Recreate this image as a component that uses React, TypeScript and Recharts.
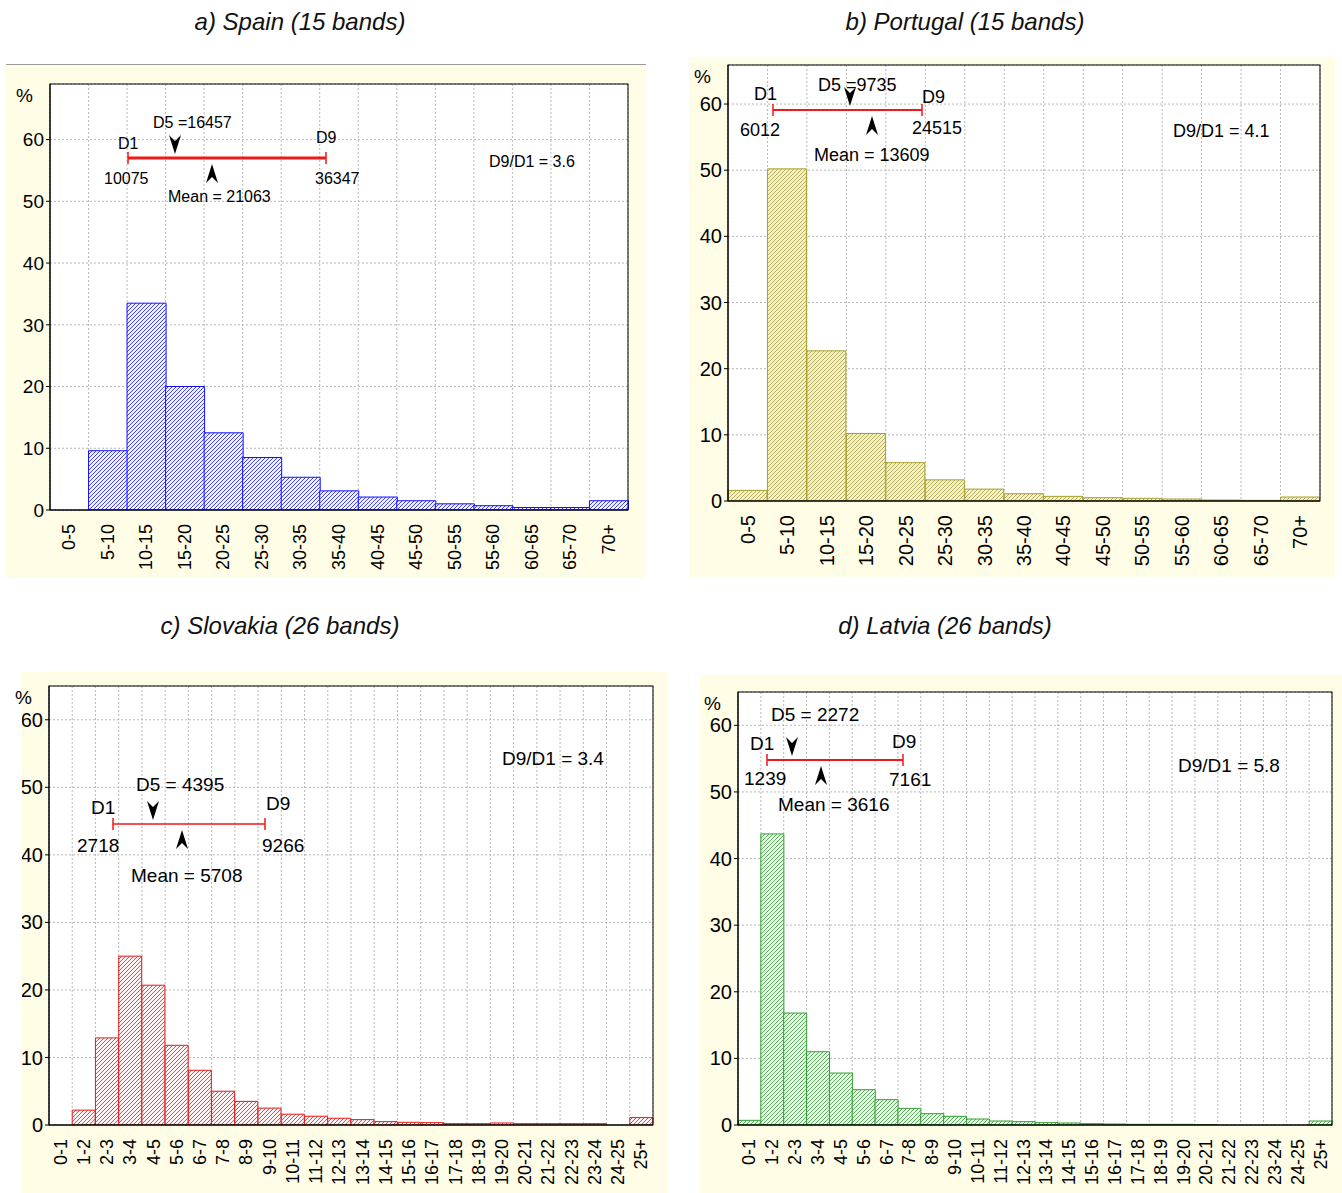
import React from 'react';
import { BarChart, Bar, XAxis, YAxis, CartesianGrid } from 'recharts';

const bands15 = ['0-5','5-10','10-15','15-20','20-25','25-30','30-35','35-40','40-45','45-50','50-55','55-60','60-65','65-70','70+'];
const bands26 = ['0-1','1-2','2-3','3-4','4-5','5-6','6-7','7-8','8-9','9-10','10-11','11-12','12-13','13-14','14-15','15-16','16-17','17-18','18-19','19-20','20-21','21-22','22-23','23-24','24-25','25+'];
const spainValues = [0,9.6,33.5,20,12.5,8.5,5.3,3.1,2.1,1.5,1.0,0.7,0.4,0.4,1.5];
const portugalValues = [1.6,50.2,22.7,10.2,5.8,3.2,1.8,1.1,0.7,0.5,0.4,0.3,0.15,0.1,0.6];
const slovakiaValues = [0,2.2,12.9,25,20.7,11.8,8.1,5,3.5,2.5,1.6,1.3,1.0,0.8,0.5,0.4,0.35,0.2,0.2,0.3,0.2,0.2,0.2,0.2,0,1.1];
const latviaValues = [0.7,43.7,16.8,11.0,7.8,5.3,3.8,2.5,1.7,1.3,0.9,0.6,0.5,0.35,0.3,0.2,0.15,0.1,0.1,0.1,0.05,0,0,0,0,0.6];
const yTicks = [0,10,20,30,40,50,60];

const mk = (cats: string[], vals: number[]) => cats.map((c, i) => ({ cat: c, v: vals[i] }));

type Ann = { d1x: number; d9x: number; ly: number; lw: number; d5x: number; meanx: number;
  texts: [string, number, number][]; fs: number };

const panels = [
  { id: 'es', title: 'a) Spain (15 bands)', tx: 300, ty: 30, box: [6, 65, 640, 513], plot: [50, 84, 628, 510], max: 69,
    data: mk(bands15, spainValues), color: '#1010ff', tint: '#f4f4ff', fs: 18, yfs: 19,
    ann: { d1x: 128, d9x: 326, ly: 158, lw: 3, d5x: 175, meanx: 212, fs: 16,
      texts: [['D1', 118, 149], ['10075', 104, 184], ['D5 =16457', 153, 128], ['Mean = 21063', 168, 202], ['D9', 316, 143], ['36347', 315, 184], ['D9/D1 = 3.6', 489, 167]] } as Ann },
  { id: 'pt', title: 'b) Portugal (15 bands)', tx: 965, ty: 30, box: [689, 58, 646, 519], plot: [728, 65, 1320, 501], max: 65.9,
    data: mk(bands15, portugalValues), color: '#a8a030', tint: '#f3efd2', fs: 20, yfs: 20,
    ann: { d1x: 773, d9x: 922, ly: 110, lw: 2, d5x: 850, meanx: 872, fs: 18,
      texts: [['D1', 754, 100], ['6012', 740, 136], ['D5 =9735', 818, 91], ['Mean = 13609', 814, 161], ['D9', 922, 103], ['24515', 912, 134], ['D9/D1 = 4.1', 1173, 137]] } as Ann },
  { id: 'sk', title: 'c) Slovakia (26 bands)', tx: 280, ty: 634, box: [22, 672, 646, 521], plot: [49, 686, 653, 1125], max: 65,
    data: mk(bands26, slovakiaValues), color: '#f01818', tint: '#fff2f2', fs: 18, yfs: 20,
    ann: { d1x: 113, d9x: 265, ly: 824, lw: 1.5, d5x: 153, meanx: 182, fs: 19,
      texts: [['D1', 91, 814], ['2718', 77, 852], ['D5 = 4395', 136, 791], ['Mean = 5708', 131, 882], ['D9', 266, 810], ['9266', 262, 852], ['D9/D1 = 3.4', 502, 765]] } as Ann },
  { id: 'lv', title: 'd) Latvia (26 bands)', tx: 945, ty: 634, box: [700, 675, 642, 518], plot: [738, 692, 1332, 1125], max: 65,
    data: mk(bands26, latviaValues), color: '#30a030', tint: '#eef8ee', fs: 18, yfs: 20,
    ann: { d1x: 767, d9x: 903, ly: 760, lw: 2, d5x: 792, meanx: 821, fs: 19,
      texts: [['D1', 750, 750], ['1239', 744, 785], ['D5 = 2272', 771, 721], ['Mean = 3616', 778, 811], ['D9', 892, 748], ['7161', 889, 786], ['D9/D1 = 5.8', 1178, 772]] } as Ann },
];

const downArrow = (x: number, y: number) => `M${x},${y} L${x - 6},${y - 19} L${x},${y - 13} L${x + 6},${y - 19} Z`;
const upArrow = (x: number, y: number) => `M${x},${y} L${x - 6},${y + 19} L${x},${y + 13} L${x + 6},${y + 19} Z`;

function Panel({ p }: { p: typeof panels[number] }) {
  const [bx, by, bw, bh] = p.box;
  const [pl, pt, pr, pb] = p.plot;
  const n = p.data.length;
  const step = (pr - pl) / n;
  const vx = Array.from({ length: n + 1 }, (_, i) => pl - bx + i * step);
  const tick = (props: any) => {
    const { x, y, payload } = props;
    return (
      <text x={x} y={y + 6} transform={`rotate(-90 ${x} ${y + 6})`} textAnchor="end" dominantBaseline="central"
        fontSize={p.fs} fontFamily="Arial, Liberation Sans, sans-serif" fill="#000">{payload.value}</text>
    );
  };
  return (
    <div style={{ position: 'absolute', left: bx, top: by, width: bw, height: bh, background: '#fffde6' }}>
      <BarChart width={bw} height={bh} data={p.data} barCategoryGap={0} barGap={0}
        margin={{ left: 0, top: pt - by, right: bx + bw - pr, bottom: 0 }}>
        <defs>
          <pattern id={`h-${p.id}`} patternUnits="userSpaceOnUse" width={4} height={4}>
            <rect width={4} height={4} fill={p.tint} />
            <path d="M-1,1 L1,-1 M0,4 L4,0 M3,5 L5,3" stroke={p.color} strokeWidth={0.8} />
          </pattern>
        </defs>
        <CartesianGrid stroke="#b8b8b8" strokeDasharray="2 2" fill="#fff" verticalPoints={vx} />
        <XAxis dataKey="cat" interval={0} height={by + bh - pb} tick={tick} tickLine={false}
          axisLine={{ stroke: '#000' }} />
        <YAxis domain={[0, p.max]} ticks={yTicks} width={pl - bx} tickSize={4}
          tick={{ fontSize: p.yfs, fill: '#000', fontFamily: 'Arial, Liberation Sans, sans-serif' }}
          axisLine={{ stroke: '#000' }} tickLine={{ stroke: '#000' }} allowDataOverflow />
        <Bar dataKey="v" fill={`url(#h-${p.id})`} stroke={p.color} strokeWidth={1} isAnimationActive={false} />
      </BarChart>
    </div>
  );
}

export default function App() {
  return (
    <div style={{ position: 'absolute', left: 0, top: 0, width: 1342, height: 1193, background: '#fff' }}>
      <div style={{ position: 'absolute', left: 6, top: 64, width: 640, height: 1, background: '#999' }} />
      {panels.map(p => <Panel key={p.id} p={p} />)}
      <svg width={1342} height={1193} style={{ position: 'absolute', left: 0, top: 0, pointerEvents: 'none' }}
        fontFamily="Arial, Liberation Sans, sans-serif">
        {panels.map(p => {
          const [pl, pt, pr, pb] = p.plot;
          const a = p.ann;
          return (
            <g key={p.id}>
              <text x={p.tx} y={p.ty} textAnchor="middle" fontSize={24} fontStyle="italic" fill="#111">{p.title}</text>
              <rect x={pl} y={pt} width={pr - pl} height={pb - pt} fill="none" stroke="#000" />
              <text x={pl - 34} y={pt + 18} fontSize={19} fill="#000">%</text>
              <line x1={a.d1x} x2={a.d9x} y1={a.ly} y2={a.ly} stroke="#f01818" strokeWidth={a.lw} />
              <line x1={a.d1x} x2={a.d1x} y1={a.ly - 6} y2={a.ly + 6} stroke="#f01818" strokeWidth={1.5} />
              <line x1={a.d9x} x2={a.d9x} y1={a.ly - 6} y2={a.ly + 6} stroke="#f01818" strokeWidth={1.5} />
              <path d={downArrow(a.d5x, a.ly - 4)} fill="#000" />
              <path d={upArrow(a.meanx, a.ly + 6)} fill="#000" />
              {a.texts.map(([t, x, y], i) => (
                <text key={i} x={x} y={y} fontSize={a.fs} fill="#000">{t}</text>
              ))}
            </g>
          );
        })}
      </svg>
    </div>
  );
}
